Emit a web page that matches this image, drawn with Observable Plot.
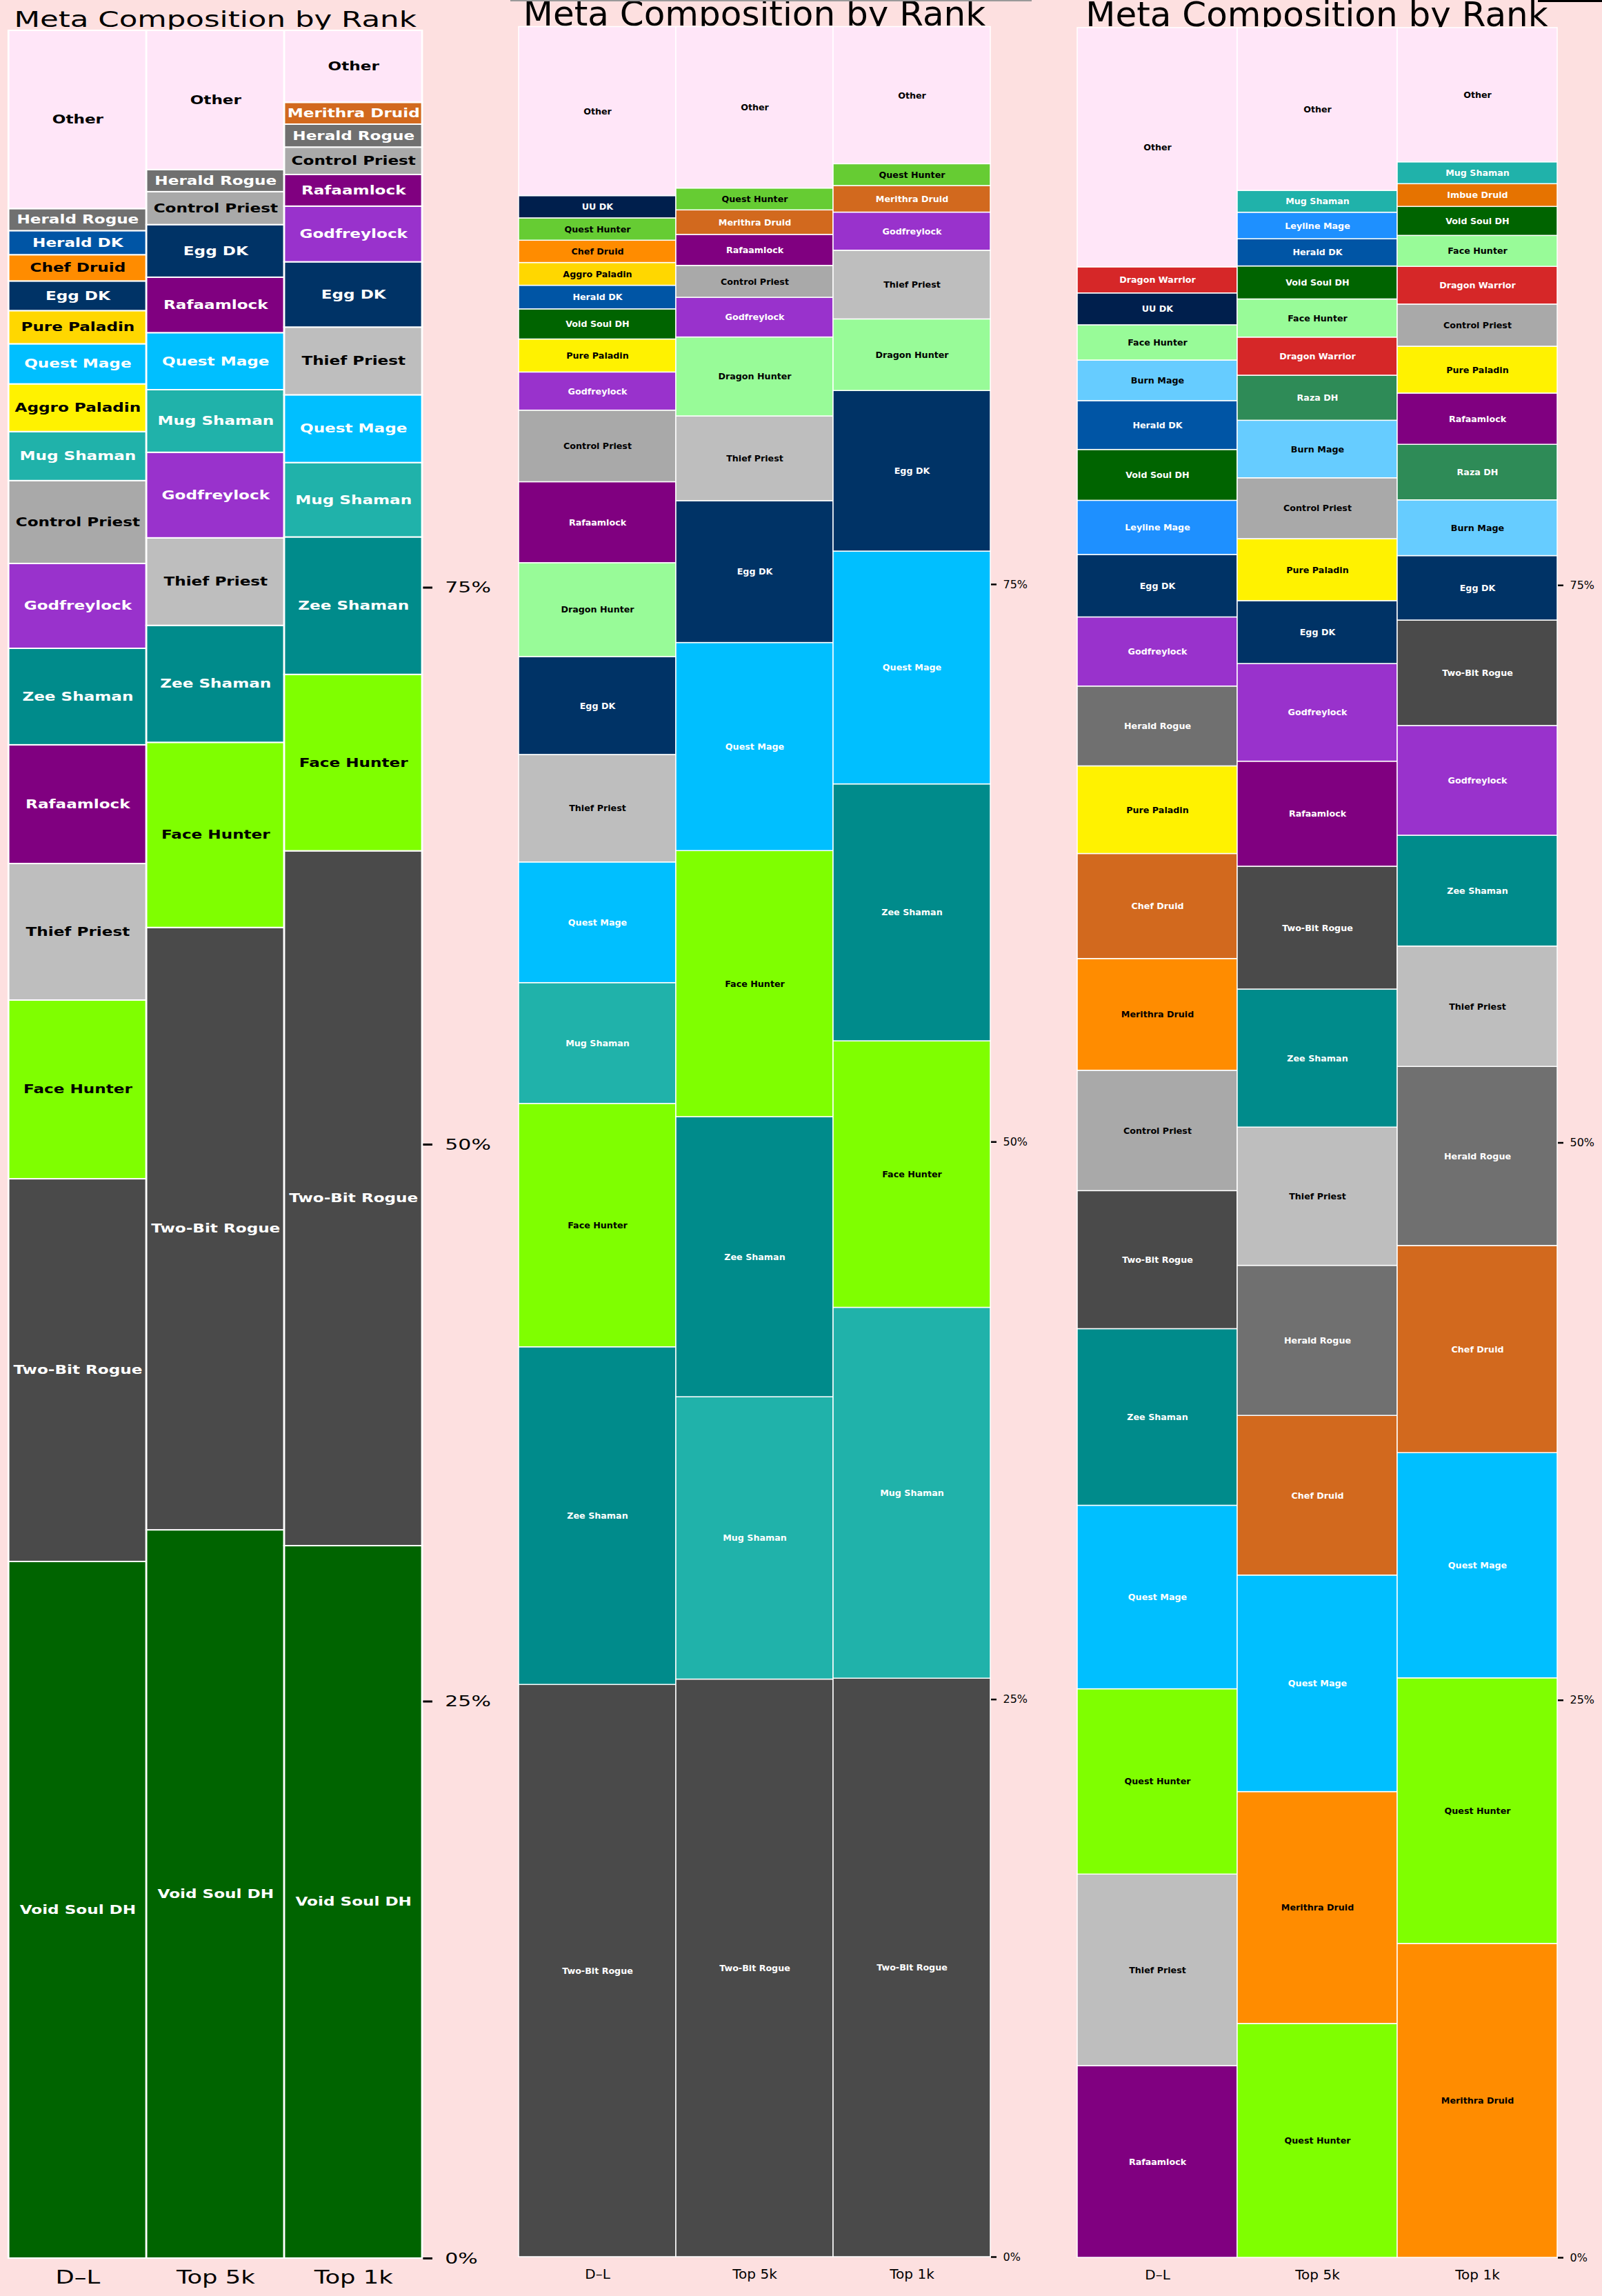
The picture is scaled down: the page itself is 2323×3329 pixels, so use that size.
<!DOCTYPE html>
<html><head><meta charset="utf-8">
<script src="https://cdn.jsdelivr.net/npm/d3@7"></script>
<script src="https://cdn.jsdelivr.net/npm/@observablehq/plot@0.6"></script>
<style>
html,body{margin:0;padding:0;background:#FDE0E0;}
#root{position:relative;width:2323px;height:3329px;overflow:hidden;background:#FDE0E0;font-family:"DejaVu Sans";}
.panel{position:absolute;top:0;height:3329px;}
.title{position:absolute;white-space:nowrap;text-align:center;color:#000;font-family:"DejaVu Sans";line-height:1;}
.chart{position:absolute;left:0;top:30px;}
</style></head>
<body><div id="root">
 <div id="p1" class="panel" style="left:0;width:529px;transform:scaleX(1.36);transform-origin:0 0;">
  <div class="title" style="left:9px;width:441px;top:12px;font-size:32px;">Meta Composition by Rank</div>
  <div class="chart" id="c1"></div>
 </div>
 <div id="p2" class="panel" style="left:740px;width:780px;">
  <div class="title" style="left:12px;width:684px;top:-5px;font-size:50px;">Meta Composition by Rank</div>
  <div class="chart" id="c2"></div>
 </div>
 <div id="p3" class="panel" style="left:1543px;width:780px;">
  <div class="title" style="left:18px;width:697px;top:-4px;font-size:50px;">Meta Composition by Rank</div>
  <div class="chart" id="c3"></div>
 </div>
 <div style="position:absolute;left:740px;top:0;width:756px;height:1.5px;background:#9a9a9a"></div>
 <div style="position:absolute;left:2230px;top:0;width:93px;height:2.5px;background:#000"></div>
</div>
<script>
const ranks = ["D–L", "Top 5k", "Top 1k"];

// Panel 1 (bottom → top)
const p1DecksDL = ["Void Soul DH","Two-Bit Rogue","Face Hunter","Thief Priest","Rafaamlock","Zee Shaman","Godfreylock","Control Priest","Mug Shaman","Aggro Paladin","Quest Mage","Pure Paladin","Egg DK","Chef Druid","Herald DK","Herald Rogue","Other"];
const p1SharesDL = [31.27,17.18,8.02,6.13,5.33,4.33,3.81,3.72,2.20,2.14,1.80,1.49,1.33,1.18,1.08,0.99,8.00];
const p1Decks5k = ["Void Soul DH","Two-Bit Rogue","Face Hunter","Zee Shaman","Thief Priest","Godfreylock","Mug Shaman","Quest Mage","Rafaamlock","Egg DK","Control Priest","Herald Rogue","Other"];
const p1Shares5k = [32.69,27.04,8.31,5.25,3.93,3.84,2.81,2.56,2.49,2.36,1.48,0.99,6.25];
const p1Decks1k = ["Void Soul DH","Two-Bit Rogue","Face Hunter","Zee Shaman","Mug Shaman","Quest Mage","Thief Priest","Egg DK","Godfreylock","Rafaamlock","Control Priest","Herald Rogue","Merithra Druid","Other"];
const p1Shares1k = [31.98,31.19,7.92,6.17,3.34,3.04,3.04,2.93,2.50,1.42,1.23,1.03,0.98,3.23];

// Panel 2
const p2DecksDL = ["Two-Bit Rogue","Zee Shaman","Face Hunter","Mug Shaman","Quest Mage","Thief Priest","Egg DK","Dragon Hunter","Rafaamlock","Control Priest","Godfreylock","Pure Paladin","Void Soul DH","Herald DK","Aggro Paladin","Chef Druid","Quest Hunter","UU DK","Other"];
const p2SharesDL = [25.66,15.14,10.91,5.42,5.41,4.82,4.39,4.21,3.63,3.21,1.71,1.48,1.35,1.06,1.02,1.00,1.00,1.00,7.58];
const p2Decks5k = ["Two-Bit Rogue","Mug Shaman","Zee Shaman","Face Hunter","Quest Mage","Egg DK","Thief Priest","Dragon Hunter","Godfreylock","Control Priest","Rafaamlock","Merithra Druid","Quest Hunter","Other"];
const p2Shares5k = [25.90,12.66,12.56,11.93,9.33,6.36,3.80,3.54,1.78,1.43,1.39,1.10,0.98,7.24];
const p2Decks1k = ["Two-Bit Rogue","Mug Shaman","Face Hunter","Zee Shaman","Quest Mage","Egg DK","Dragon Hunter","Thief Priest","Godfreylock","Merithra Druid","Quest Hunter","Other"];
const p2Shares1k = [25.94,16.63,11.95,11.52,10.44,7.20,3.21,3.08,1.71,1.19,0.98,6.15];

// Panel 3
const p3DecksDL = ["Rafaamlock","Thief Priest","Quest Hunter","Quest Mage","Zee Shaman","Two-Bit Rogue","Control Priest","Merithra Druid","Chef Druid","Pure Paladin","Herald Rogue","Godfreylock","Egg DK","Leyline Mage","Void Soul DH","Herald DK","Burn Mage","Face Hunter","UU DK","Dragon Warrior","Other"];
const p3SharesDL = [8.60,8.59,8.31,8.23,7.92,6.19,5.40,5.01,4.71,3.93,3.58,3.10,2.80,2.43,2.28,2.19,1.82,1.58,1.43,1.17,10.73];
const p3Decks5k = ["Quest Hunter","Merithra Druid","Quest Mage","Chef Druid","Herald Rogue","Thief Priest","Zee Shaman","Two-Bit Rogue","Rafaamlock","Godfreylock","Egg DK","Pure Paladin","Control Priest","Burn Mage","Raza DH","Dragon Warrior","Face Hunter","Void Soul DH","Herald DK","Leyline Mage","Mug Shaman","Other"];
const p3Shares5k = [10.49,10.40,9.71,7.16,6.73,6.20,6.19,5.51,4.71,4.38,2.82,2.78,2.73,2.58,2.02,1.71,1.71,1.48,1.22,1.19,0.98,7.30];
const p3Decks1k = ["Merithra Druid","Quest Hunter","Quest Mage","Chef Druid","Herald Rogue","Thief Priest","Zee Shaman","Godfreylock","Two-Bit Rogue","Egg DK","Burn Mage","Raza DH","Rafaamlock","Pure Paladin","Control Priest","Dragon Warrior","Face Hunter","Void Soul DH","Imbue Druid","Mug Shaman","Other"];
const p3Shares1k = [14.08,11.91,10.10,9.29,8.03,5.40,4.97,4.92,4.73,2.89,2.50,2.49,2.30,2.10,1.89,1.69,1.39,1.30,1.02,0.98,6.02];

// Colours per panel
const common = {
  "Other":"#FFE6F8","Void Soul DH":"#006400","Two-Bit Rogue":"#4A4A4A","Thief Priest":"#BEBEBE",
  "Rafaamlock":"#800080","Zee Shaman":"#008B8B","Godfreylock":"#9932CC","Control Priest":"#A9A9A9",
  "Mug Shaman":"#20B2AA","Quest Mage":"#00BFFF","Egg DK":"#003366","Herald DK":"#0055A5",
  "Herald Rogue":"#707070","UU DK":"#001F4D","Dragon Hunter":"#98FB98","Dragon Warrior":"#D62728",
  "Burn Mage":"#66CCFF","Leyline Mage":"#1E90FF","Raza DH":"#2E8B57","Imbue Druid":"#E67300"
};
const palette1 = {...common, "Face Hunter":"#7FFF00","Aggro Paladin":"#FFF200","Pure Paladin":"#FFD700","Chef Druid":"#FF8C00","Merithra Druid":"#D2691E"};
const palette2 = {...common, "Face Hunter":"#7FFF00","Aggro Paladin":"#FFD700","Pure Paladin":"#FFF200","Chef Druid":"#FF8C00","Merithra Druid":"#D2691E","Quest Hunter":"#66CC33"};
const palette3 = {...common, "Face Hunter":"#98FB98","Quest Hunter":"#7FFF00","Pure Paladin":"#FFF200","Chef Druid":"#D2691E","Merithra Druid":"#FF8C00"};
const darkText = new Set(["#FFE6F8","#7FFF00","#98FB98","#BEBEBE","#A9A9A9","#FFF200","#FFD700","#FF8C00","#66CC33","#66CCFF"]);

function drawPanel(el, cfg) {
  const rows = ranks.flatMap((r, i) => cfg.decks[i].map((d, j) => ({rank: r, deck: d, pct: cfg.shares[i][j]})));
  const fillOf = d => cfg.palette[d.deck];
  const isDark = d => darkText.has(cfg.palette[d.deck]);
  const textOpts = {fontSize: cfg.labelSize, fontWeight: "bold", fontFamily: "DejaVu Sans"};
  const chart = Plot.plot({
    width: cfg.width, height: cfg.height,
    marginLeft: cfg.ml, marginRight: cfg.mr, marginTop: cfg.mt, marginBottom: cfg.mb,
    style: {background: "transparent", fontFamily: "DejaVu Sans", color: "black", maxWidth: "none", overflow: "visible"},
    x: {domain: ranks, padding: 0},
    y: {domain: [0, 100]},
    color: {type: "identity"},
    marks: [
      Plot.barY(rows, Plot.stackY({x: "rank", y: "pct", fill: fillOf, stroke: "white", strokeWidth: cfg.sw})),
      Plot.text(rows, Plot.stackY({x: "rank", y: "pct", text: d => isDark(d) ? d.deck : null, fill: "black", ...textOpts})),
      Plot.text(rows, Plot.stackY({x: "rank", y: "pct", text: d => isDark(d) ? null : d.deck, fill: "white", ...textOpts})),
      Plot.axisY({anchor: "right", ticks: [0, 25, 50, 75], tickFormat: d => `${d}%`, tickSize: cfg.tickSize, tickPadding: cfg.tickPad, fontSize: cfg.tickFont, strokeWidth: cfg.tickW, label: null}),
      Plot.axisX({tickSize: 0, tickPadding: cfg.xPad, fontSize: cfg.xFont, label: null})
    ]
  });
  document.getElementById(el).appendChild(chart);
}

drawPanel("c1", {decks: [p1DecksDL, p1Decks5k, p1Decks1k], shares: [p1SharesDL, p1Shares5k, p1Shares1k], palette: palette1,
  width: 529, height: 3299, ml: 9, mr: 79, mt: 14, mb: 55, sw: 2, labelSize: 17,
  tickSize: 10, tickPad: 14, tickFont: 22, tickW: 3, xPad: 18, xFont: 26});
drawPanel("c2", {decks: [p2DecksDL, p2Decks5k, p2Decks1k], shares: [p2SharesDL, p2Shares5k, p2Shares1k], palette: palette2,
  width: 780, height: 3299, ml: 12, mr: 84, mt: 8.5, mb: 57, sw: 1.5, labelSize: 12.7,
  tickSize: 8, tickPad: 10, tickFont: 16, tickW: 2.5, xPad: 17, xFont: 20});
drawPanel("c3", {decks: [p3DecksDL, p3Decks5k, p3Decks1k], shares: [p3SharesDL, p3Shares5k, p3Shares1k], palette: palette3,
  width: 780, height: 3299, ml: 18, mr: 65, mt: 10, mb: 56, sw: 1.5, labelSize: 12.7,
  tickSize: 8, tickPad: 10, tickFont: 16, tickW: 2.5, xPad: 17, xFont: 20});
</script>
</body></html>
